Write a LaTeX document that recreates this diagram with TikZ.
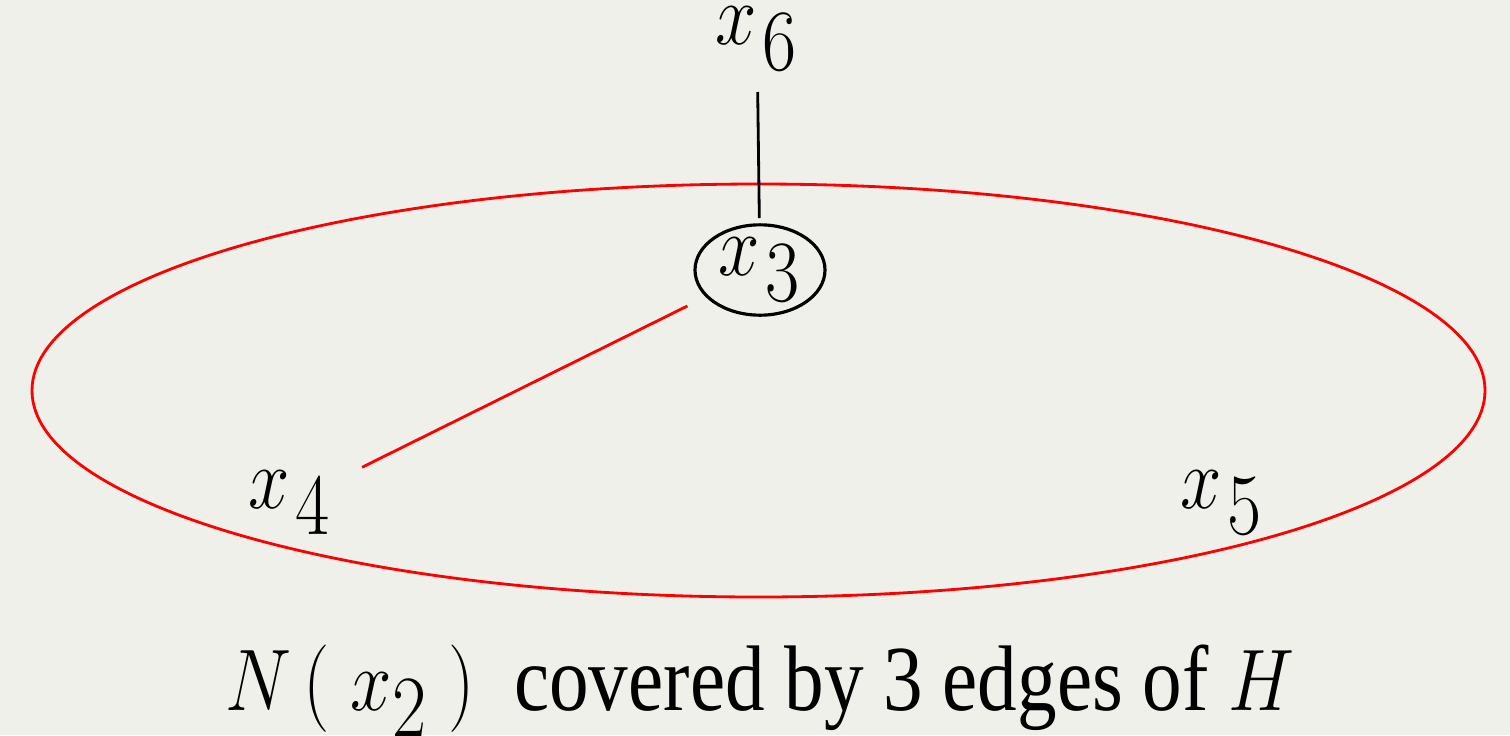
\documentclass[tikz,border=0pt]{standalone}
\usepackage{fontspec}
\setmainfont{Liberation Serif}
\usetikzlibrary{shapes.geometric,calc}
\definecolor{paper}{RGB}{240,240,235}
% narrow the glyphs as in the reference
\newcommand{\sq}[1]{\scalebox{0.85}[1]{#1}}
\newcommand{\vx}[1]{\sq{$x_{\mkern2mu\textstyle #1}$}}
\begin{document}
\begin{tikzpicture}[font=\fontsize{26.5}{30}\selectfont, vlabel/.style={inner sep=0pt}]
  \fill[paper] (0,0) rectangle (15.1,7.35);
  \useasboundingbox (0,0) rectangle (15.1,7.35);
  \draw[red, line width=0.8pt] (7.585,3.445) ellipse [x radius=7.265cm, y radius=2.065cm];
  \node[vlabel] (x6) at (7.57,6.96) {\vx{6}};
  \node[draw, ellipse, line width=0.9pt, inner sep=0pt, minimum width=1.3cm, minimum height=0.72cm] (x3) at (7.6,4.65) {\vx{3}};
  \node[vlabel] (x4) at (2.9,2.32) {\vx{4}};
  \node[vlabel] (x5) at (12.22,2.32) {\vx{5}};
  \draw[line width=0.8pt] ($(x6)!0.53cm!(x3)$) -- ($(x3)!0.52cm!(x6)$);
  \draw[red, line width=0.8pt] ($(x3)!0.81cm!(x4)$) -- ($(x4)!0.805cm!(x3)$);
  \node[vlabel] (cap) at (7.6,0.44) {\sq{$N\,\bigl(\;x_{\textstyle 2}\;\bigr)$\ \ covered by 3 edges of $H$}};
\end{tikzpicture}
\end{document}
